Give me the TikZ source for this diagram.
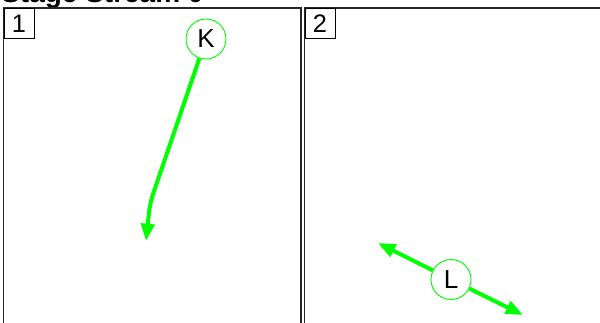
\documentclass[tikz,border=0pt]{standalone}
\usepackage{fontspec}
\setmainfont{Liberation Sans}
\usetikzlibrary{arrows.meta}
\begin{document}
\begin{tikzpicture}[x=0.75pt,y=-0.75pt,
  frame/.style={draw=black!85,line width=1.4pt},
  idbox/.style={draw=black,line width=0.8pt,fill=white,minimum width=22.5pt,minimum height=22.5pt,inner sep=0pt,font=\fontsize{19}{21}\selectfont,anchor=north west},
  state/.style={circle,draw=green,line width=0.7pt,fill=white,minimum size=30pt,inner sep=0pt,font=\fontsize{19.5}{22}\selectfont},
  flow/.style={draw=green,line width=3pt,-{Triangle[length=13pt,width=10pt]}}]
\clip (0,0) rectangle (600,323);
\node[anchor=base west,font=\fontsize{21}{24}\bfseries\selectfont,inner sep=0pt] (title) at (1,2.5) {Stage Stream 0};
\draw[frame] (3.5,340) -- (3.5,8) -- (301,8) -- (301,340);
\draw[frame] (304.5,340) -- (304.5,8) -- (620,8);
\node[idbox] (p1) at (3.5,8) {1};
\node[idbox] (p2) at (304.5,8) {2};
\node[state] (K) at (206,39) {K};
\node[state] (L) at (451,279.5) {L};
\coordinate (kbend) at (150,203);
\coordinate (ktip) at (146,241);
\coordinate (lup) at (378,243);
\coordinate (ldown) at (523,315);
\draw[flow,rounded corners=7pt] (K) -- (kbend) -- (ktip);
\draw[flow] (L) -- (lup);
\draw[flow] (L) -- (ldown);
\end{tikzpicture}
\end{document}
